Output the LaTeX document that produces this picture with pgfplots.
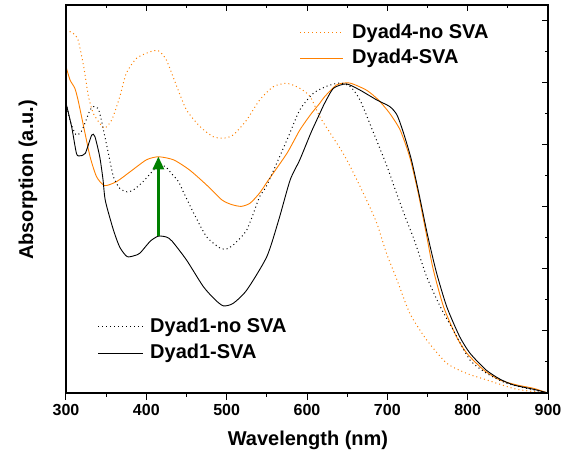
\documentclass[border=0pt]{standalone}
\usepackage{fontspec}
\setmainfont{Liberation Sans}
\usepackage{pgfplots}
\pgfplotsset{compat=1.18}
\usetikzlibrary{arrows.meta}
\definecolor{dorange}{RGB}{255,128,0}
\definecolor{dgreen}{RGB}{0,128,0}

\begin{document}
\begin{tikzpicture}
\useasboundingbox (-66pt,-67pt) rectangle (509pt,393pt);
\pgfplotsset{
  specbox/.style={
    scale only axis, width=482pt, height=388pt,
    xmin=300, xmax=900, ymin=0, ymax=1.2516,
    xtick={300,400,...,900}, minor x tick num=1,
    ytick={0,0.2,...,1.2}, minor y tick num=1,
    axis line style={line width=1.3pt},
    every tick/.style={black, line width=1pt},
    major tick length=6.5pt, minor tick length=3.5pt,
  }
}
% main axis: curves, bottom ticks, labels
\begin{axis}[specbox,
  xtick pos=bottom, ytick=\empty, tick align=outside,
  /pgf/number format/assume math mode=true,
  xticklabel style={font=\fontsize{16}{18}\selectfont\bfseries, yshift=-1pt},
  xlabel={\bfseries Wavelength (nm)},
  ylabel={\bfseries Absorption (a.u.)},
  label style={font=\fontsize{20}{22}\selectfont},
  xlabel style={at={(axis description cs:0.502,-0.121)}, anchor=center},
  ylabel style={at={(axis description cs:-0.079,0.549)}, anchor=center},
]
% Dyad4-no SVA
\addplot[dorange, line width=1pt, dash pattern=on 1pt off 3pt, smooth, tension=0.4] coordinates {
(300,1.171) (309,1.160) (315,1.139) (322,1.053) (328,0.956) (334,0.902)
(342,0.870) (348,0.854) (357,0.881) (367,0.956) (375,1.031) (388,1.080)
(405,1.101) (415,1.104) (425,1.074) (438,0.988) (450,0.913) (467,0.859)
(483,0.827) (496,0.822) (508,0.832) (525,0.881) (541,0.945) (558,0.988)
(575,0.999) (591,0.983) (604,0.956) (616,0.891) (629,0.838) (645,0.773)
(658,0.709) (674,0.623) (687,0.547) (699,0.450) (712,0.365) (728,0.257)
(749,0.171) (774,0.096) (799,0.063) (824,0.042) (861,0.012) (900,0.000)
};
% Dyad4-SVA
\addplot[dorange, line width=0.9pt, smooth, tension=0.4] coordinates {
(300,1.053) (305,1.010) (311,0.983) (315,0.945) (322,0.859) (330,0.762)
(338,0.698) (348,0.669) (363,0.682) (380,0.714) (400,0.752) (415,0.762)
(434,0.752) (454,0.719) (475,0.671) (494,0.623) (506,0.608) (518,0.602)
(529,0.612) (541,0.645) (552,0.687) (575,0.773) (591,0.848) (605,0.900)
(616,0.935) (622,0.956) (637,0.994) (653,1.000) (674,0.977) (689,0.945)
(703,0.902) (716,0.848) (728,0.760) (738,0.650) (748,0.520) (757,0.400)
(770,0.278) (786,0.182) (799,0.128) (820,0.074) (840,0.042) (861,0.026)
(882,0.015) (900,0.000)
};
% Dyad1-no SVA
\addplot[black, line width=1pt, dash pattern=on 1pt off 3pt, smooth, tension=0.4] coordinates {
(300,0.935) (305,0.880) (309,0.850) (313,0.832) (319,0.843) (325,0.880)
(330,0.913) (334,0.924) (340,0.918) (344,0.880) (351,0.795) (359,0.698)
(367,0.660) (376,0.649) (384,0.655) (396,0.682) (409,0.719) (417,0.735)
(424,0.730) (431,0.709) (440,0.682) (446,0.649) (452,0.617) (459,0.580)
(475,0.504) (492,0.467) (500,0.465) (508,0.477) (525,0.526) (541,0.633)
(550,0.670) (575,0.816) (591,0.913) (608,0.967) (625,0.990) (641,1.000)
(654,0.988) (666,0.945) (683,0.838) (699,0.735) (710,0.655) (722,0.570)
(734,0.490) (749,0.375) (766,0.278) (782,0.203) (803,0.106) (824,0.063)
(849,0.031) (882,0.010) (900,0.000)
};
% Dyad1-SVA
\addplot[black, line width=0.9pt, smooth, tension=0.4] coordinates {
(300,0.935) (307,0.859) (313,0.773) (317,0.765) (324,0.773) (332,0.832)
(336,0.827) (342,0.762) (346,0.690) (349,0.620) (359,0.526) (367,0.470)
(376,0.440) (385,0.443) (392,0.451) (405,0.490) (415,0.506) (425,0.503)
(432,0.490) (450,0.429) (471,0.343) (486,0.300) (496,0.281) (508,0.289)
(525,0.332) (550,0.440) (565,0.560) (579,0.687) (591,0.752) (605,0.840)
(616,0.902) (622,0.935) (633,0.983) (649,0.997) (666,0.977) (687,0.945)
(703,0.924) (712,0.897) (720,0.840) (730,0.752) (740,0.635) (750,0.510)
(761,0.390) (774,0.278) (790,0.182) (803,0.128) (823,0.074)
(840,0.045) (857,0.026) (882,0.012) (900,0.000)
};
% arrow marking the rise of the 415 nm band
\draw[dgreen, line width=3pt, -{Triangle[length=13pt,width=11pt]}]
  (axis cs:415,0.506) -- (axis cs:415,0.763);
\end{axis}
% mirror axis: top and right ticks pointing in
\begin{axis}[specbox,
  xtick pos=top, ytick pos=right, tick align=inside,
  xticklabels={}, yticklabels={},
]
\end{axis}
% legends
\begin{scope}[font=\fontsize{20}{22}\selectfont\bfseries]
\draw[dorange, line width=1pt, dash pattern=on 1pt off 3pt] (234pt,360pt) -- (277pt,360pt);
\node[anchor=west, inner sep=0pt] at (286pt,360pt) {Dyad4-no SVA};
\draw[dorange, line width=0.9pt] (234pt,335pt) -- (277pt,335pt);
\node[anchor=west, inner sep=0pt] at (286pt,335pt) {Dyad4-SVA};
\draw[black, line width=1pt, dash pattern=on 1pt off 3pt] (32pt,66pt) -- (77pt,66pt);
\node[anchor=west, inner sep=0pt] at (84pt,66pt) {Dyad1-no SVA};
\draw[black, line width=0.9pt] (32pt,40pt) -- (77pt,40pt);
\node[anchor=west, inner sep=0pt] at (84pt,40pt) {Dyad1-SVA};
\end{scope}
\end{tikzpicture}
\end{document}
